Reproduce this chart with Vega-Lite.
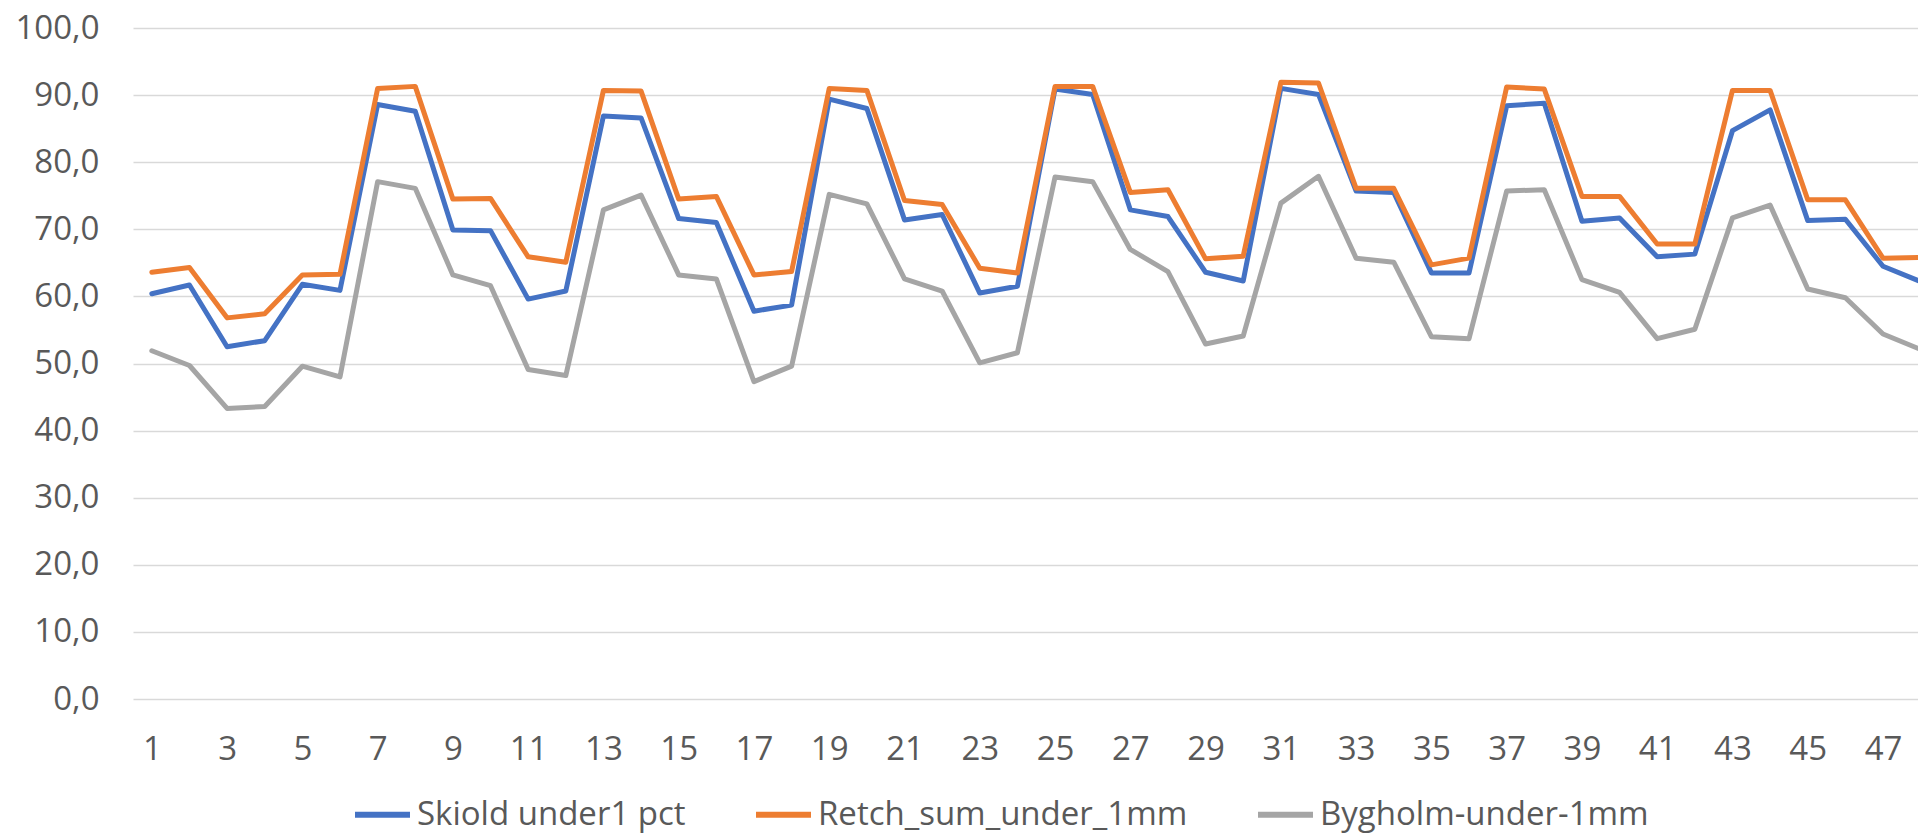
{
  "$schema": "https://vega.github.io/schema/vega-lite/v6.json",
  "autosize": {"type": "none"},
  "padding": {"left": 133, "top": 28, "right": 0, "bottom": 136},
  "width": 1785,
  "height": 671,
  "background": "#ffffff",
  "data": {
    "values": [
      {"n": 1, "Skiold under1 pct": 60.4, "Retch_sum_under_1mm": 63.6, "Bygholm-under-1mm": 51.9},
      {"n": 2, "Skiold under1 pct": 61.7, "Retch_sum_under_1mm": 64.3, "Bygholm-under-1mm": 49.7},
      {"n": 3, "Skiold under1 pct": 52.5, "Retch_sum_under_1mm": 56.8, "Bygholm-under-1mm": 43.3},
      {"n": 4, "Skiold under1 pct": 53.4, "Retch_sum_under_1mm": 57.4, "Bygholm-under-1mm": 43.6},
      {"n": 5, "Skiold under1 pct": 61.8, "Retch_sum_under_1mm": 63.2, "Bygholm-under-1mm": 49.6},
      {"n": 6, "Skiold under1 pct": 60.9, "Retch_sum_under_1mm": 63.3, "Bygholm-under-1mm": 48.0},
      {"n": 7, "Skiold under1 pct": 88.6, "Retch_sum_under_1mm": 91.0, "Bygholm-under-1mm": 77.1},
      {"n": 8, "Skiold under1 pct": 87.6, "Retch_sum_under_1mm": 91.3, "Bygholm-under-1mm": 76.1},
      {"n": 9, "Skiold under1 pct": 69.9, "Retch_sum_under_1mm": 74.5, "Bygholm-under-1mm": 63.2},
      {"n": 10, "Skiold under1 pct": 69.8, "Retch_sum_under_1mm": 74.6, "Bygholm-under-1mm": 61.6},
      {"n": 11, "Skiold under1 pct": 59.6, "Retch_sum_under_1mm": 65.9, "Bygholm-under-1mm": 49.1},
      {"n": 12, "Skiold under1 pct": 60.8, "Retch_sum_under_1mm": 65.1, "Bygholm-under-1mm": 48.2},
      {"n": 13, "Skiold under1 pct": 86.9, "Retch_sum_under_1mm": 90.7, "Bygholm-under-1mm": 72.9},
      {"n": 14, "Skiold under1 pct": 86.6, "Retch_sum_under_1mm": 90.6, "Bygholm-under-1mm": 75.1},
      {"n": 15, "Skiold under1 pct": 71.6, "Retch_sum_under_1mm": 74.5, "Bygholm-under-1mm": 63.2},
      {"n": 16, "Skiold under1 pct": 71.0, "Retch_sum_under_1mm": 74.9, "Bygholm-under-1mm": 62.6},
      {"n": 17, "Skiold under1 pct": 57.8, "Retch_sum_under_1mm": 63.2, "Bygholm-under-1mm": 47.3},
      {"n": 18, "Skiold under1 pct": 58.7, "Retch_sum_under_1mm": 63.7, "Bygholm-under-1mm": 49.6},
      {"n": 19, "Skiold under1 pct": 89.4, "Retch_sum_under_1mm": 91.0, "Bygholm-under-1mm": 75.2},
      {"n": 20, "Skiold under1 pct": 88.0, "Retch_sum_under_1mm": 90.7, "Bygholm-under-1mm": 73.8},
      {"n": 21, "Skiold under1 pct": 71.4, "Retch_sum_under_1mm": 74.3, "Bygholm-under-1mm": 62.6},
      {"n": 22, "Skiold under1 pct": 72.2, "Retch_sum_under_1mm": 73.7, "Bygholm-under-1mm": 60.8},
      {"n": 23, "Skiold under1 pct": 60.5, "Retch_sum_under_1mm": 64.2, "Bygholm-under-1mm": 50.1},
      {"n": 24, "Skiold under1 pct": 61.5, "Retch_sum_under_1mm": 63.5, "Bygholm-under-1mm": 51.6},
      {"n": 25, "Skiold under1 pct": 90.9, "Retch_sum_under_1mm": 91.3, "Bygholm-under-1mm": 77.8},
      {"n": 26, "Skiold under1 pct": 90.1, "Retch_sum_under_1mm": 91.3, "Bygholm-under-1mm": 77.1},
      {"n": 27, "Skiold under1 pct": 72.9, "Retch_sum_under_1mm": 75.5, "Bygholm-under-1mm": 67.0},
      {"n": 28, "Skiold under1 pct": 71.9, "Retch_sum_under_1mm": 75.9, "Bygholm-under-1mm": 63.7},
      {"n": 29, "Skiold under1 pct": 63.6, "Retch_sum_under_1mm": 65.6, "Bygholm-under-1mm": 52.9},
      {"n": 30, "Skiold under1 pct": 62.3, "Retch_sum_under_1mm": 66.0, "Bygholm-under-1mm": 54.1},
      {"n": 31, "Skiold under1 pct": 91.0, "Retch_sum_under_1mm": 91.9, "Bygholm-under-1mm": 73.9},
      {"n": 32, "Skiold under1 pct": 90.1, "Retch_sum_under_1mm": 91.8, "Bygholm-under-1mm": 77.9},
      {"n": 33, "Skiold under1 pct": 75.7, "Retch_sum_under_1mm": 76.1, "Bygholm-under-1mm": 65.7},
      {"n": 34, "Skiold under1 pct": 75.5, "Retch_sum_under_1mm": 76.1, "Bygholm-under-1mm": 65.1},
      {"n": 35, "Skiold under1 pct": 63.5, "Retch_sum_under_1mm": 64.7, "Bygholm-under-1mm": 54.0},
      {"n": 36, "Skiold under1 pct": 63.5, "Retch_sum_under_1mm": 65.7, "Bygholm-under-1mm": 53.7},
      {"n": 37, "Skiold under1 pct": 88.4, "Retch_sum_under_1mm": 91.2, "Bygholm-under-1mm": 75.7},
      {"n": 38, "Skiold under1 pct": 88.8, "Retch_sum_under_1mm": 90.9, "Bygholm-under-1mm": 75.9},
      {"n": 39, "Skiold under1 pct": 71.2, "Retch_sum_under_1mm": 74.9, "Bygholm-under-1mm": 62.5},
      {"n": 40, "Skiold under1 pct": 71.7, "Retch_sum_under_1mm": 74.9, "Bygholm-under-1mm": 60.6},
      {"n": 41, "Skiold under1 pct": 65.9, "Retch_sum_under_1mm": 67.8, "Bygholm-under-1mm": 53.7},
      {"n": 42, "Skiold under1 pct": 66.3, "Retch_sum_under_1mm": 67.8, "Bygholm-under-1mm": 55.1},
      {"n": 43, "Skiold under1 pct": 84.7, "Retch_sum_under_1mm": 90.7, "Bygholm-under-1mm": 71.7},
      {"n": 44, "Skiold under1 pct": 87.8, "Retch_sum_under_1mm": 90.7, "Bygholm-under-1mm": 73.6},
      {"n": 45, "Skiold under1 pct": 71.3, "Retch_sum_under_1mm": 74.4, "Bygholm-under-1mm": 61.1},
      {"n": 46, "Skiold under1 pct": 71.5, "Retch_sum_under_1mm": 74.4, "Bygholm-under-1mm": 59.8},
      {"n": 47, "Skiold under1 pct": 64.5, "Retch_sum_under_1mm": 65.7, "Bygholm-under-1mm": 54.4},
      {"n": 48, "Skiold under1 pct": 62.2, "Retch_sum_under_1mm": 65.8, "Bygholm-under-1mm": 52.1}
    ]
  },
  "transform": [
    {"fold": ["Skiold under1 pct", "Retch_sum_under_1mm", "Bygholm-under-1mm"], "as": ["serie", "pct"]}
  ],
  "mark": {"type": "line", "strokeWidth": 5, "strokeCap": "round", "strokeJoin": "round", "clip": true},
  "encoding": {
    "x": {
      "field": "n",
      "type": "quantitative",
      "scale": {"domain": [0.5, 47.93], "nice": false, "zero": false},
      "axis": {
        "title": null,
        "values": [1, 3, 5, 7, 9, 11, 13, 15, 17, 19, 21, 23, 25, 27, 29, 31, 33, 35, 37, 39, 41, 43, 45, 47],
        "format": "d",
        "grid": false,
        "domain": false,
        "ticks": false,
        "labelPadding": 34,
        "labelFlush": false,
        "labelOverlap": false
      }
    },
    "y": {
      "field": "pct",
      "type": "quantitative",
      "scale": {"domain": [0, 100], "nice": false},
      "axis": {
        "title": null,
        "values": [0, 10, 20, 30, 40, 50, 60, 70, 80, 90, 100],
        "labelExpr": "replace(format(datum.value, '.1f'), '.', ',')",
        "domain": false,
        "ticks": false,
        "grid": true,
        "gridColor": "#d9d9d9",
        "gridWidth": 1.5,
        "labelPadding": 34,
        "labelBaseline": "middle"
      }
    },
    "color": {
      "field": "serie",
      "type": "nominal",
      "sort": ["Skiold under1 pct", "Retch_sum_under_1mm", "Bygholm-under-1mm"],
      "scale": {
        "domain": ["Skiold under1 pct", "Retch_sum_under_1mm", "Bygholm-under-1mm"],
        "range": ["#4472c4", "#ed7d31", "#a5a5a5"]
      },
      "legend": {
        "title": null,
        "orient": "none",
        "direction": "horizontal",
        "legendX": 219,
        "legendY": 756,
        "symbolType": "stroke",
        "symbolSize": 3025,
        "symbolStrokeWidth": 6,
        "labelOffset": 4,
        "columnPadding": 58
      }
    }
  },
  "config": {
    "view": {"stroke": null},
    "axis": {
      "labelFont": "Open Sans",
      "labelFontSize": 33,
      "labelColor": "#595959"
    },
    "legend": {
      "labelFont": "Open Sans",
      "labelFontSize": 33,
      "labelColor": "#595959",
      "labelLimit": 700
    }
  }
}
